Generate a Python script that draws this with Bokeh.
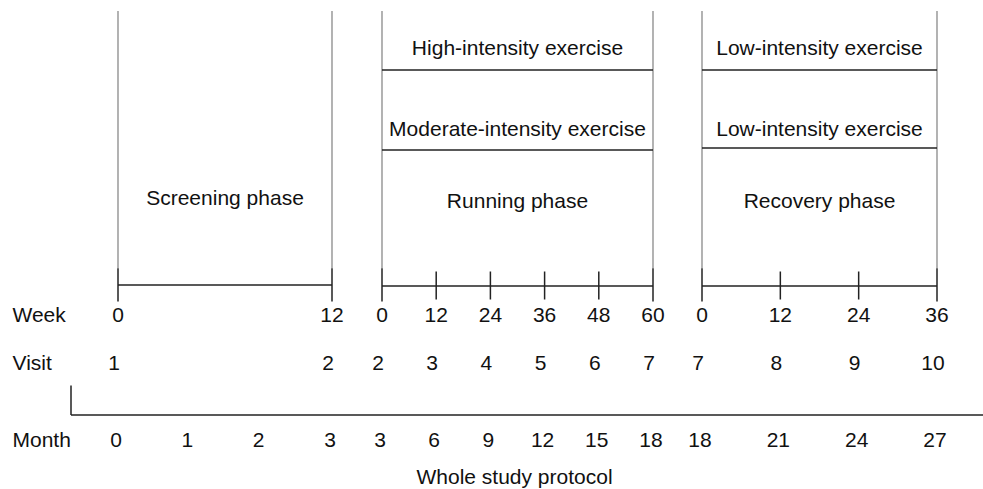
from bokeh.plotting import figure
from bokeh.models import Range1d, ColumnDataSource
from bokeh.core.properties import value
from bokeh.embed import file_html
from bokeh.resources import INLINE
import numpy as np

# ---------------- data ----------------
phase_names = ["Screening phase", "Running phase", "Recovery phase"]
upper_exercise = ["", "High-intensity exercise", "Low-intensity exercise"]
lower_exercise = ["", "Moderate-intensity exercise", "Low-intensity exercise"]

screening_weeks = [0, 12]
running_weeks = [0, 12, 24, 36, 48, 60]
recovery_weeks = [0, 12, 24, 36]

screening_visits = [1, 2]
running_visits = [2, 3, 4, 5, 6, 7]
recovery_visits = [7, 8, 9, 10]

screening_months = [0, 1, 2, 3]
running_months = [3, 6, 9, 12, 15, 18]
recovery_months = [18, 21, 24, 27]

row_labels = ["Week", "Visit", "Month"]
protocol_title = "Whole study protocol"

# ---------------- layout (page pixels) ----------------
phase_px = [(117.5, 331.5), (381.5, 652.5), (701.5, 936.5)]
weeks_all = [screening_weeks, running_weeks, recovery_weeks]
visits_all = [screening_visits, running_visits, recovery_visits]
months_all = [screening_months, running_months, recovery_months]

FONT = value("Liberation Sans")
FS = "21px"
TXT = "#111111"
LN = "#222222"
TY = -8  # text baseline correction

p = figure(width=983, height=489, x_range=Range1d(0, 983), y_range=Range1d(489, 0),
           output_backend="svg", toolbar_location=None, min_border=0,
           x_axis_location=None, y_axis_location=None)
p.grid.visible = False
p.outline_line_color = None
p.background_fill_color = "white"


def wx(i, w):
    x0, x1 = phase_px[i]
    wk = weeks_all[i]
    return x0 + (np.asarray(w, dtype=float) - wk[0]) / (wk[-1] - wk[0]) * (x1 - x0)


def add_text(xs, ys, texts, align="center", x_offset=0):
    src = ColumnDataSource(dict(x=list(xs), y=[y + TY for y in ys], t=[str(t) for t in texts]))
    p.text("x", "y", text="t", source=src, text_font=FONT, text_font_size=FS,
           text_color=TXT, text_align=align, text_baseline="alphabetic",
           x_offset=x_offset)


# dotted phase boundaries
dx = []
for (a, b) in phase_px:
    dx += [a, b]
p.segment(x0=dx, y0=[11] * len(dx), x1=dx, y1=[268] * len(dx),
          line_color="#000000", line_width=1.2, line_dash="1 1")

# week bars with ticks
hx0, hx1, hy = [], [], []
tx, ty0, ty1 = [], [], []
bar_y = [284.5, 285.5, 285.5]
for i, wk in enumerate(weeks_all):
    xs = wx(i, wk)
    hx0.append(xs[0]); hx1.append(xs[-1]); hy.append(bar_y[i])
    for j, x in enumerate(xs):
        tx.append(x)
        if j == 0 or j == len(xs) - 1:
            ty0.append(268); ty1.append(301)
        else:
            ty0.append(271); ty1.append(299)
p.segment(x0=hx0, y0=hy, x1=hx1, y1=hy, line_color=LN, line_width=1.5)
p.segment(x0=tx, y0=ty0, x1=tx, y1=ty1, line_color=LN, line_width=1.5)

# exercise labels and lines
ex_text_x, ex_text_y, ex_texts = [], [], []
lx0, lx1, ly = [], [], []
lower_line_y = [149.5, 149.5, 147.5]
for i in range(len(phase_names)):
    a, b = phase_px[i]
    c = (a + b) / 2
    if upper_exercise[i]:
        ex_text_x.append(c); ex_text_y.append(55); ex_texts.append(upper_exercise[i])
        lx0.append(a); lx1.append(b); ly.append(69.5)
    if lower_exercise[i]:
        ex_text_x.append(c); ex_text_y.append(136); ex_texts.append(lower_exercise[i])
        lx0.append(a); lx1.append(b); ly.append(lower_line_y[i])
p.segment(x0=lx0, y0=ly, x1=lx1, y1=ly, line_color=LN, line_width=1.5)
add_text(ex_text_x, ex_text_y, ex_texts)

# phase names
add_text([(a + b) / 2 for a, b in phase_px], [205, 208, 208], phase_names)

# row labels
add_text([12, 12, 12], [322, 370, 447], row_labels, align="left")

# week, visit, month numbers
wxs, wys, wts = [], [], []
vxs, vys, vts = [], [], []
mxs, mys, mts = [], [], []
for i, wk in enumerate(weeks_all):
    xs = wx(i, wk)
    wxs += list(xs); wys += [322] * len(xs); wts += wk
    vxs += list(xs); vys += [370] * len(xs); vts += visits_all[i]
    mo = months_all[i]
    wpm = (wk[-1] - wk[0]) / (mo[-1] - mo[0])
    mx = wx(i, [(m - mo[0]) * wpm for m in mo])
    mxs += list(mx); mys += [447] * len(mx); mts += mo
add_text(wxs, wys, wts)
add_text(vxs, vys, vts, x_offset=-4)
add_text(mxs, mys, mts, x_offset=-2)

# whole-study bracket
p.segment(x0=[70.5, 70.5], y0=[385, 414.5], x1=[70.5, 983], y1=[414.5, 414.5],
          line_color=LN, line_width=1.5)
add_text([514], [484], [protocol_title])

open("out.html", "w").write(file_html(p, INLINE))
